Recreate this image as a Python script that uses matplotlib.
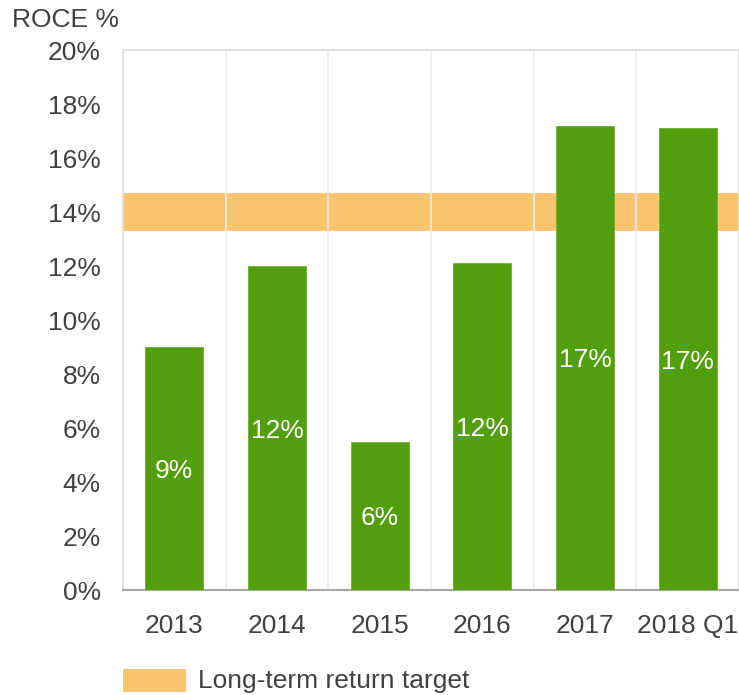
import matplotlib.pyplot as plt
import numpy as np

# data
years = ["2013", "2014", "2015", "2016", "2017", "2018 Q1"]
roce = [9.0, 12.0, 5.5, 12.1, 17.2, 17.1]
bar_labels = ["9%", "12%", "6%", "12%", "17%", "17%"]
target_low = 13.3
target_high = 14.7
yticks = [0, 2, 4, 6, 8, 10, 12, 14, 16, 18, 20]

green = "#529e0c"
orange = "#fbc46e"
text_col = "#404040"
fs = 19

plt.rcParams['font.family'] = ['Liberation Sans', 'DejaVu Sans']

fig = plt.figure(figsize=(7.39, 6.95), dpi=100)
ax = fig.add_axes([123 / 739, 105 / 695, 616 / 739, 540 / 695])

x = np.arange(len(years))

# target band
ax.axhspan(target_low, target_high, color=orange, lw=0, zorder=1)

# category separators
for b in np.arange(len(years)) + 0.5:
    ax.axvline(b, color="#ebebeb", lw=1.2, zorder=2)

bars = ax.bar(x, roce, width=0.565, color=green, edgecolor="#6cb02e",
              linewidth=0.6, zorder=3)

for xi, v, lab in zip(x, roce, bar_labels):
    ax.text(xi, v / 2, lab, ha="center", va="center_baseline", color="white",
            fontsize=fs, zorder=4)

ax.set_xlim(-0.5, len(years) - 0.5)
ax.set_ylim(0, 20)
ax.set_xticks(x)
ax.set_xticklabels(years, fontsize=fs, color=text_col)
ax.set_yticks(yticks)
ax.set_yticklabels([f"{t}%" for t in yticks], fontsize=fs, color=text_col)
ax.tick_params(length=0)
ax.tick_params(axis="x", pad=17)
ax.tick_params(axis="y", pad=16)

for s in ["left", "top", "right"]:
    ax.spines[s].set_color("#dadada")
    ax.spines[s].set_linewidth(1.2)
ax.spines["bottom"].set_color("#a6a6a6")
ax.spines["bottom"].set_linewidth(1.5)

fig.text(12 / 739, 1 - 20 / 695, "ROCE %", fontsize=fs, color=text_col,
         va="center", ha="left")

# legend
fig.patches.append(plt.Rectangle((123 / 739, 1 - 692 / 695), 63 / 739, 23 / 695,
                                 transform=fig.transFigure, color=orange, lw=0))
fig.text(198 / 739, 1 - 681 / 695, "Long-term return target", fontsize=fs,
         color=text_col, va="center", ha="left")

fig.savefig("out.png", dpi=100, facecolor="white")
